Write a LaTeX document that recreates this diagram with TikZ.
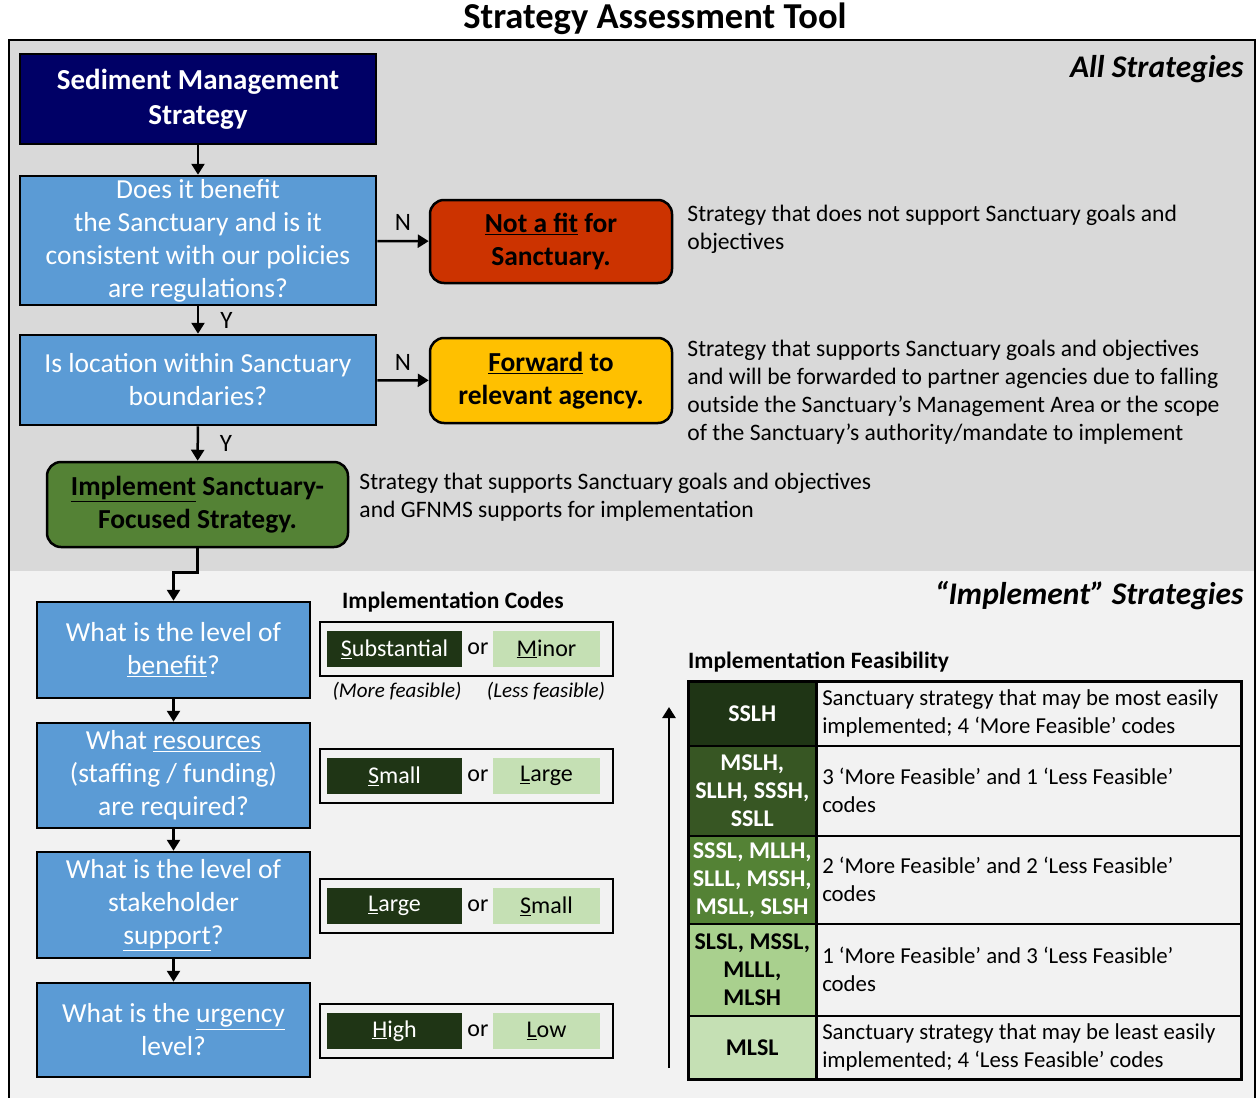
\documentclass[tikz,border=0pt]{standalone}
\usepackage{fontspec}
\setmainfont{Carlito}
\usetikzlibrary{arrows.meta}
\usetikzlibrary{calc,positioning}

\definecolor{navybox}{HTML}{000066}
\definecolor{qblue}{HTML}{5B9BD5}
\definecolor{nofit}{HTML}{CC3300}
\definecolor{fwd}{HTML}{FFC000}
\definecolor{impl}{HTML}{548235}
\definecolor{allgray}{HTML}{D9D9D9}
\definecolor{implgray}{HTML}{F2F2F2}
\definecolor{codedark}{HTML}{1F3515}
\definecolor{codelight}{HTML}{C5E0B4}
\definecolor{frow1}{HTML}{1F3515}
\definecolor{frow2}{HTML}{375623}
\definecolor{frow3}{HTML}{548235}
\definecolor{frow4}{HTML}{A9D08E}
\definecolor{frow5}{HTML}{C5E0B4}

\begin{document}
\begin{tikzpicture}[x=1pt, y=-1pt,
        arr/.style={line width=2.5pt, -{Triangle[length=11pt,width=13pt]}},
        question/.style={rectangle, draw=black, line width=2.5pt, fill=qblue, text=white,
        align=center, inner sep=2pt, font=\fontsize{27.5}{33}\selectfont},
        outcome/.style={rectangle, draw=black, line width=2.5pt, rounded corners=14pt,
        align=center, inner sep=2pt, font=\bfseries\fontsize{27.5}{33}\selectfont},
        note/.style={anchor=north west, align=left, inner sep=0pt, font=\fontsize{23.6}{28}\selectfont},
        yn/.style={font=\fontsize{25}{28}\selectfont, inner sep=1pt},
        heading/.style={font=\bfseries\itshape\fontsize{31.5}{36}\selectfont, anchor=east},
        subhead/.style={font=\bfseries\fontsize{23.5}{28}\selectfont, anchor=west, inner sep=0pt},
        codeframe/.style={rectangle, draw=black, line width=2.5pt, minimum width=293pt, minimum height=54pt},
        codemore/.style={rectangle, fill=codedark, text=white, minimum width=135pt, minimum height=36pt,
        font=\fontsize{24}{28}\selectfont},
        codeless/.style={rectangle, fill=codelight, text=black, minimum width=107pt, minimum height=36pt,
        font=\fontsize{24}{28}\selectfont},
        codeor/.style={font=\fontsize{24}{28}\selectfont, inner sep=0pt},
        fcode/.style={rectangle, draw=black, line width=1.5pt, anchor=north west, minimum width=127pt,
        align=center, inner sep=0pt, font=\bfseries\fontsize{24}{28}\selectfont},
        fdesc/.style={rectangle, draw=black, line width=1.5pt, fill=implgray, anchor=north west,
        text width=413pt, inner xsep=5pt, inner ysep=0pt, align=justify, font=\fontsize{22.8}{28}\selectfont}
    ]
    \useasboundingbox (0,0) rectangle (1257,1097);

    % background panels
    \fill[allgray] (9,40) rectangle (1255,571);
    \fill[implgray] (9,571) rectangle (1255,1100);
    \draw[line width=2.5pt] (9,1100) -- (9,40) -- (1255,40) -- (1255,1100);

    \node[font=\bfseries\fontsize{36.5}{40}\selectfont] (title) at (655,19) {Strategy Assessment Tool};
    \node[heading] (allstrat) at (1247,69) {All Strategies};
    \node[heading] (implstrat) at (1247,596) {“Implement” Strategies};

    % screening steps
    \node[rectangle, draw=black, line width=2.5pt, fill=navybox, text=white, align=center,
        minimum width=356pt, minimum height=90pt, font=\bfseries\fontsize{29}{35}\selectfont]
        (sediment) at (198,99) {Sediment Management\\Strategy};
    \node[question, minimum width=356pt, minimum height=129pt] (benefitq) at (198,240.5)
        {Does it benefit\\the Sanctuary and is it\\consistent with our policies\\are regulations?};
    \node[question, minimum width=356pt, minimum height=90pt] (locationq) at (198,380)
        {Is location within Sanctuary\\boundaries?};
    \node[outcome, fill=nofit, minimum width=242pt, minimum height=83pt] (notfit) at (551,241.5)
        {\underline{Not a fit} for\\Sanctuary.};
    \node[outcome, fill=fwd, minimum width=242pt, minimum height=85pt] (forward) at (551,380.5)
        {\underline{Forward} to\\relevant agency.};
    \node[outcome, fill=impl, minimum width=301pt, minimum height=85pt] (implement) at (197.5,504.5)
        {\underline{Implement} Sanctuary-\\Focused Strategy.};

    \node[note] (notfitnote) at ([xshift=14pt,yshift=-6pt]notfit.north east)
        {Strategy that does not support Sanctuary goals and\\objectives};
    \node[note] (forwardnote) at ([xshift=14pt,yshift=-3pt]forward.north east)
        {Strategy that supports Sanctuary goals and objectives\\and will be forwarded to partner agencies due to falling\\outside the Sanctuary’s Management Area or the scope\\of the Sanctuary’s authority/mandate to implement};
    \node[note] (implementnote) at ([xshift=10pt,yshift=-12pt]implement.north east)
        {Strategy that supports Sanctuary goals and objectives\\and GFNMS supports for implementation};

    \draw[arr] (sediment) -- (benefitq);
    \draw[arr] (benefitq) -- node[yn, above=8pt] {N} (notfit);
    \draw[arr] (benefitq) -- node[yn, right=20pt] {Y} (locationq);
    \draw[arr] (locationq) -- node[yn, above=8pt] {N} (forward);
    \draw[arr] (locationq) -- node[yn, right=20pt] {Y} (implement);

    % implementation questions
    \node[question, minimum width=273pt, minimum height=96pt] (levelq) at (173.5,650)
        {What is the level of\\\underline{benefit}?};
    \node[question, minimum width=273pt, minimum height=105pt] (resourceq) at (173.5,775.5)
        {What \underline{resources}\\(staffing / funding)\\are required?};
    \node[question, minimum width=273pt, minimum height=106pt] (supportq) at (173.5,905)
        {What is the level of\\stakeholder\\\underline{support}?};
    \node[question, minimum width=273pt, minimum height=94pt] (urgencyq) at (173.5,1030)
        {What is the \underline{urgency}\\level?};

    \draw[arr] (implement.south) -- ++(0,24) -| (levelq.north);
    \draw[arr] (levelq) -- (resourceq);
    \draw[arr] (resourceq) -- (supportq);
    \draw[arr] (supportq) -- (urgencyq);

    % implementation codes
    \node[subhead] (codeshead) at (342,602) {Implementation Codes};
    \node[codeframe] (benefitcodes) at (466.5,649) {};
    \node[codemore] (substantial) at (394.5,649) {\underline{S}ubstantial};
    \node[codeor] at (478,649) {or};
    \node[codeless] (minor) at (546.5,649) {\underline{M}inor};
    \node[font=\itshape\fontsize{21}{24}\selectfont] (morefeas) at (397,691) {(More feasible)};
    \node[font=\itshape\fontsize{21}{24}\selectfont] (lessfeas) at (546,691) {(Less feasible)};

    \node[codeframe] (resourcecodes) at (466.5,776) {};
    \node[codemore] (smallres) at (394.5,776) {\underline{S}mall};
    \node[codeor] at (478,776) {or};
    \node[codeless] (largeres) at (546.5,776) {\underline{L}arge};

    \node[codeframe] (supportcodes) at (466.5,906) {};
    \node[codemore] (largesup) at (394.5,906) {\underline{L}arge};
    \node[codeor] at (478,906) {or};
    \node[codeless] (smallsup) at (546.5,906) {\underline{S}mall};

    \node[codeframe] (urgencycodes) at (466.5,1031) {};
    \node[codemore] (high) at (394.5,1031) {\underline{H}igh};
    \node[codeor] at (478,1031) {or};
    \node[codeless] (low) at (546.5,1031) {\underline{L}ow};

    % implementation feasibility table
    \node[subhead] (feashead) at (688,662) {Implementation Feasibility};
    \node[fcode, fill=frow1, text=white, minimum height=64pt] (sslh) at (688,681) {SSLH};
    \node[fdesc, minimum height=64pt] (sslhtxt) at (sslh.north east)
        {Sanctuary strategy that may be most easily\\implemented; 4 ‘More Feasible’ codes};
    \node[fcode, fill=frow2, text=white, minimum height=90pt] (mslh) at (688,745) {MSLH,\\SLLH, SSSH,\\SSLL};
    \node[fdesc, minimum height=90pt] (mslhtxt) at (mslh.north east)
        {3 ‘More Feasible’ and 1 ‘Less Feasible’\\codes};
    \node[fcode, fill=frow3, text=white, minimum height=88pt] (sssl) at (688,835) {SSSL, MLLH,\\SLLL, MSSH,\\MSLL, SLSH};
    \node[fdesc, minimum height=88pt] (sssltxt) at (sssl.north east)
        {2 ‘More Feasible’ and 2 ‘Less Feasible’\\codes};
    \node[fcode, fill=frow4, minimum height=92pt] (slsl) at (688,923) {SLSL, MSSL,\\MLLL,\\MLSH};
    \node[fdesc, minimum height=92pt] (slsltxt) at (slsl.north east)
        {1 ‘More Feasible’ and 3 ‘Less Feasible’\\codes};
    \node[fcode, fill=frow5, minimum height=63pt] (mlsl) at (688,1015) {MLSL};
    \node[fdesc, minimum height=63pt] (mlsltxt) at (mlsl.north east)
        {Sanctuary strategy that may be least easily\\implemented; 4 ‘Less Feasible’ codes};
    \draw[line width=3pt] (sslh.north west) rectangle (mlsltxt.south east);

    \coordinate (feasbottom) at (669,1068);
    \coordinate (feastop) at (669,707);
    \draw[arr] (feasbottom) -- (feastop);
\end{tikzpicture}
\end{document}
